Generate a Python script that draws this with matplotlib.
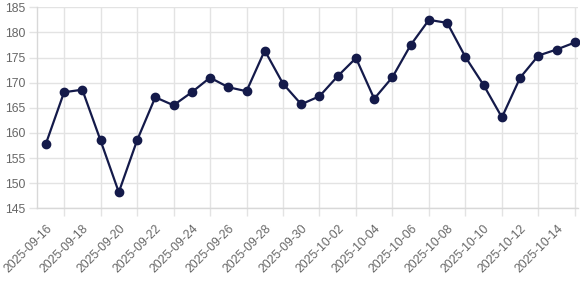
import matplotlib
matplotlib.use("Agg")
import matplotlib.pyplot as plt
import numpy as np
from datetime import date, timedelta

start = date(2025, 9, 16)
dates = [(start + timedelta(days=i)).isoformat() for i in range(30)]
values = [157.8, 168.1, 168.6, 158.5, 148.2, 158.5, 167.1, 165.5, 168.1, 171.0,
          169.1, 168.3, 176.4, 169.8, 165.7, 167.3, 171.3, 174.9, 166.8, 171.1,
          177.5, 182.5, 181.9, 175.1, 169.5, 163.1, 171.0, 175.4, 176.6, 178.0]
y_ticks = [145, 150, 155, 160, 165, 170, 175, 180, 185]

plt.rcParams['font.family'] = ['Liberation Sans', 'DejaVu Sans']

fig = plt.figure(figsize=(5.8, 2.93), dpi=100)
ax = fig.add_axes([36.7 / 580, 1 - 208.3 / 293, (578 - 36.7) / 580, (208.3 - 7.3) / 293])

x = np.arange(len(values))
ax.plot(x, values, color='#141a4a', linewidth=1.6, marker='o', markersize=6,
        markerfacecolor='#141a4a', markeredgecolor='#141a4a', zorder=3, clip_on=False)

ax.set_xlim(-0.5, 29.17)
ax.set_ylim(145, 185)

grid_c = '#e3e3e3'
ax.set_yticks(y_ticks)
ax.set_yticklabels([str(v) for v in y_ticks])
ax.tick_params(axis='y', length=6, width=1, color=grid_c, labelcolor='#666666',
               labelsize=8.8, pad=2)

odd = x[1::2]
even = x[0::2]
ax.set_xticks(odd)
ax.set_xticklabels([''] * len(odd))
ax.set_xticks(even, minor=True)
ax.set_xticklabels([dates[i] for i in even], minor=True, rotation=45, ha='right',
                   rotation_mode='anchor')
ax.tick_params(axis='x', which='major', length=6, width=1, color=grid_c)
ax.tick_params(axis='x', which='minor', length=0, labelcolor='#666666',
               labelsize=8.8, pad=10)

ax.grid(True, which='major', color=grid_c, linewidth=1)
ax.set_axisbelow(True)
for s in ['top', 'right']:
    ax.spines[s].set_visible(False)
for s in ['left', 'bottom']:
    ax.spines[s].set_color('#d8d8d8')
    ax.spines[s].set_linewidth(1)

fig.savefig('out.png', dpi=100)
